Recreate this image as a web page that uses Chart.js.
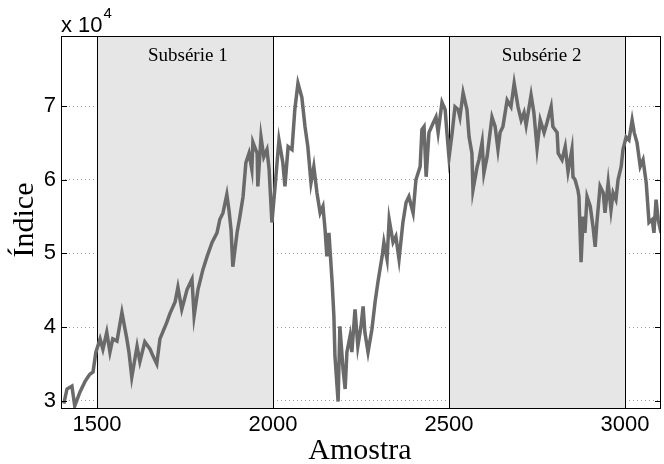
<!DOCTYPE html>
<html>
<head>
<meta charset="utf-8">
<script src="https://cdn.jsdelivr.net/npm/chart.js"></script>
<style>
  html, body { margin: 0; padding: 0; background: #fff; }
</style>
</head>
<body>
<canvas id="grafico" width="664" height="464"></canvas>
<script>
// amostra (eixo x) e valor do indice (eixo y)
const amostras = [
  1406, 1415, 1429, 1437, 1452, 1466, 1474, 1480, 1489, 1497,
  1509, 1517, 1528, 1537, 1545, 1557, 1571, 1585, 1591, 1599,
  1614, 1622, 1636, 1651, 1659, 1670, 1679, 1699, 1707, 1722,
  1730, 1741, 1756, 1770, 1776, 1787, 1801, 1813, 1827, 1841,
  1849, 1858, 1869, 1875, 1881, 1886, 1898, 1906, 1915, 1923,
  1932, 1940, 1943, 1955, 1957, 1966, 1974, 1983, 1989, 1997,
  2006, 2017, 2028, 2034, 2043, 2054, 2062, 2071, 2082, 2091,
  2099, 2108, 2116, 2125, 2134, 2142, 2148, 2153, 2159, 2168,
  2173, 2176, 2185, 2190, 2199, 2205, 2210, 2219, 2224, 2233,
  2241, 2250, 2256, 2261, 2270, 2281, 2290, 2298, 2310, 2315,
  2324, 2330, 2341, 2349, 2358, 2369, 2378, 2386, 2398, 2406,
  2418, 2423, 2429, 2435, 2443, 2455, 2463, 2469, 2480, 2489,
  2494, 2500, 2509, 2517, 2526, 2531, 2540, 2551, 2557, 2565,
  2568, 2580, 2585, 2594, 2599, 2608, 2622, 2631, 2639, 2645,
  2653, 2665, 2676, 2685, 2696, 2705, 2713, 2719, 2733, 2741,
  2750, 2759, 2770, 2778, 2790, 2795, 2807, 2810, 2821, 2830,
  2838, 2849, 2852, 2858, 2866, 2869, 2875, 2881, 2886, 2892,
  2901, 2909, 2915, 2920, 2929, 2938, 2943, 2952, 2960, 2966,
  2974, 2980, 2989, 2994, 3003, 3011, 3020, 3026, 3034, 3043,
  3051, 3060, 3068, 3077, 3082, 3088, 3094, 3102
];
const indice = [
  29600, 31600, 32000, 29300, 31200, 32600, 33200, 33600, 33900, 36600,
  38400, 37000, 39300, 36600, 38400, 38100, 42000, 38400, 36600, 33200,
  37400, 35300, 38000, 37000, 36100, 35000, 38400, 40700, 41800, 43400,
  45400, 42400, 45100, 46500, 41500, 45100, 47800, 49600, 51500, 52800,
  54600, 55500, 58000, 55900, 53200, 48200, 52800, 55000, 57700, 62300,
  63600, 61400, 65100, 63600, 59100, 65800, 63100, 64100, 61400, 54200,
  59100, 65400, 62300, 59100, 64500, 64100, 69500, 73100, 71200, 67200,
  64500, 59600, 61800, 58200, 55500, 56400, 53200, 49600, 52800, 46100,
  41500, 36100, 29900, 40100, 34300, 31600, 36600, 38800, 36600, 42400,
  37400, 40100, 42800, 39300, 36600, 39700, 43400, 46100, 49600, 51500,
  49200, 54600, 51500, 52300, 49200, 54200, 56900, 57700, 55500, 60000,
  61800, 66800, 67200, 60400, 66400, 67700, 68500, 66400, 70500, 69500,
  66400, 63000, 66400, 69900, 69500, 68500, 71800, 69500, 65800, 63600,
  58600, 61800, 62700, 65100, 60900, 63100, 68500, 67200, 64100, 66400,
  67200, 70800, 69900, 73100, 69900, 68100, 69100, 67400, 71500, 69100,
  64300, 68100, 66400, 67700, 69900, 67200, 66400, 63600, 62700, 64500,
  61100, 64100, 60400, 60000, 58600, 57700, 48800, 55000, 52800, 57700,
  56400, 53600, 50900, 54200, 59100, 58200, 55500, 59600, 55900, 58200,
  57300, 60000, 61800, 64100, 65800, 65400, 68100, 66400, 65000, 61800,
  62700, 59600, 54200, 54600, 52800, 57300, 54600, 52800
];

const xTicks = [1500, 2000, 2500, 3000];
const yTicks = [30000, 40000, 50000, 60000, 70000];

// faixas sombreadas das subseries
const subInicio = [1500, 2500];
const subFim = [2000, 3000];
const subNomes = ['Subsérie 1', 'Subsérie 2'];
const subTextoEm = [1645, 2650];

const SANS = '"Liberation Sans", Arial, sans-serif';
const SERIF = '"Liberation Serif", "Times New Roman", serif';

const molduraPlugin = {
  id: 'moldura',
  beforeDatasetsDraw(chart) {
    const { ctx, chartArea: a, scales: { x } } = chart;
    ctx.save();
    ctx.fillStyle = '#e6e6e6';
    for (let i = 0; i < subInicio.length; i++) {
      const x0 = x.getPixelForValue(subInicio[i]);
      const x1 = x.getPixelForValue(subFim[i]);
      ctx.fillRect(x0, a.top, x1 - x0, a.bottom - a.top);
    }
    ctx.strokeStyle = '#000';
    ctx.lineWidth = 1;
    ctx.beginPath();
    for (let i = 0; i < subInicio.length; i++) {
      [subInicio[i], subFim[i]].forEach(v => {
        const px = Math.round(x.getPixelForValue(v)) + 0.5;
        ctx.moveTo(px, a.top);
        ctx.lineTo(px, a.bottom);
      });
    }
    ctx.stroke();
    ctx.fillStyle = '#000';
    ctx.font = '19px ' + SERIF;
    ctx.textAlign = 'left';
    ctx.textBaseline = 'alphabetic';
    for (let i = 0; i < subNomes.length; i++) {
      ctx.fillText(subNomes[i], x.getPixelForValue(subTextoEm[i]), a.top + 25);
    }
    ctx.restore();
  },
  afterDraw(chart) {
    const { ctx, chartArea: a, scales: { x, y } } = chart;
    ctx.save();
    ctx.strokeStyle = '#000';
    ctx.lineWidth = 1;
    // caixa do grafico
    ctx.strokeRect(Math.round(a.left) + 0.5, Math.round(a.top) + 0.5,
      Math.round(a.right - a.left) - 1, Math.round(a.bottom - a.top));
    // marcas dos ticks para dentro
    ctx.beginPath();
    yTicks.forEach(v => {
      const py = Math.round(y.getPixelForValue(v)) + 0.5;
      ctx.moveTo(a.left, py); ctx.lineTo(a.left + 6, py);
      ctx.moveTo(a.right - 6, py); ctx.lineTo(a.right, py);
    });
    xTicks.forEach(v => {
      const px = Math.round(x.getPixelForValue(v)) + 0.5;
      ctx.moveTo(px, a.bottom); ctx.lineTo(px, a.bottom - 6);
      ctx.moveTo(px, a.top); ctx.lineTo(px, a.top + 6);
    });
    ctx.stroke();

    // multiplicador x 10^4
    ctx.fillStyle = '#000';
    ctx.textAlign = 'left';
    ctx.textBaseline = 'alphabetic';
    ctx.font = '22px ' + SANS;
    ctx.fillText('x 10', a.left, 32);
    const w = ctx.measureText('x 10').width;
    ctx.font = '15px ' + SANS;
    ctx.fillText('4', a.left + w + 1, 18);

    // titulos dos eixos
    ctx.font = '30px ' + SERIF;
    ctx.textAlign = 'center';
    ctx.fillText('Amostra', 360, 459);
    ctx.translate(33, 220);
    ctx.rotate(-Math.PI / 2);
    ctx.fillText('Índice', 0, 0);
    ctx.restore();
  }
};

new Chart(document.getElementById('grafico'), {
  type: 'line',
  data: {
    datasets: [{
      data: amostras.map((a, i) => ({ x: a, y: indice[i] })),
      borderColor: '#6a6a6a',
      borderWidth: 3.5,
      pointRadius: 0,
      tension: 0,
      fill: false
    }]
  },
  options: {
    responsive: false,
    animation: false,
    layout: { padding: { left: 0, right: 3, top: 36, bottom: 0 } },
    plugins: { legend: { display: false }, tooltip: { enabled: false } },
    scales: {
      x: {
        type: 'linear',
        min: 1398,
        max: 3102,
        afterBuildTicks: axis => { axis.ticks = xTicks.map(v => ({ value: v })); },
        afterFit: axis => { axis.height = 56; },
        grid: { display: false, drawTicks: false },
        border: { display: false },
        ticks: {
          color: '#000',
          padding: 4,
          maxRotation: 0,
          font: { family: SANS, size: 22 },
          callback: v => String(v)
        }
      },
      y: {
        min: 29020,
        max: 79510,
        afterBuildTicks: axis => { axis.ticks = yTicks.map(v => ({ value: v })); },
        afterFit: axis => { axis.width = 61; },
        grid: {
          drawTicks: false,
          color: '#a0a0a0',
          lineWidth: 1
        },
        border: { display: false, dash: [1, 3] },
        ticks: {
          color: '#000',
          padding: 5,
          font: { family: SANS, size: 22 },
          callback: v => v / 10000
        }
      }
    }
  },
  plugins: [molduraPlugin]
});
</script>
</body>
</html>
